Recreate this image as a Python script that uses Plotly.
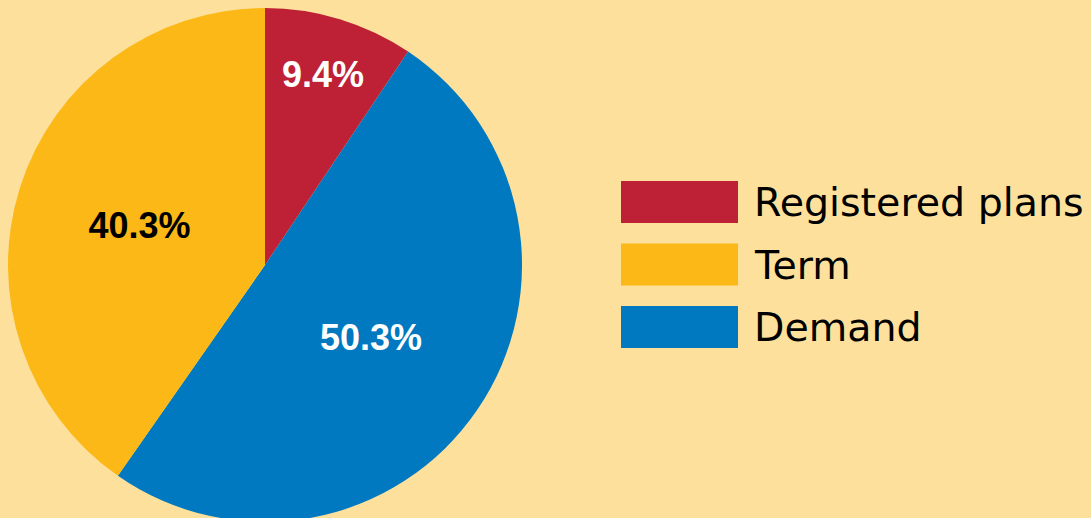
import plotly.graph_objects as go

# slice order follows the drawing (clockwise from 12 o'clock)
labels = ["Registered plans", "Demand", "Term"]
values = [9.4, 50.3, 40.3]
colors = ["#BE2036", "#0079C1", "#FBB817"]
label_colors = ["white", "white", "black"]

# legend order as shown on the right
legend_labels = ["Registered plans", "Term", "Demand"]
legend_colors = ["#BE2036", "#FBB817", "#0079C1"]

W, H = 1091, 522
bg = "#FDE09B"

fig = go.Figure(
    go.Pie(
        labels=labels,
        values=values,
        sort=False,
        direction="clockwise",
        rotation=0,
        marker=dict(colors=colors, line=dict(width=0)),
        texttemplate="%{value:.1f}%",
        textposition="inside",
        insidetextorientation="horizontal",
        textfont=dict(family="Liberation Sans", size=36, weight="bold", color=label_colors),
        domain=dict(x=[0, 530 / W], y=[0, 1]),
        showlegend=False,
        hoverinfo="label+percent",
    )
)

# hand-drawn legend with big swatches (paper coords, plot area = 8..522 px)
ph = H - 8
for i, (name, col) in enumerate(zip(legend_labels, legend_colors)):
    yc = 202 + i * 62.5 - 8
    fig.add_shape(
        type="rect",
        xref="paper", yref="paper",
        x0=621 / W, x1=738 / W,
        y0=1 - (yc - 21) / ph, y1=1 - (yc + 21) / ph,
        fillcolor=col, line=dict(width=0),
    )
    fig.add_annotation(
        text=name,
        xref="paper", yref="paper",
        x=752 / W, y=1 - yc / ph,
        xanchor="left", yanchor="middle",
        showarrow=False,
        font=dict(family="DejaVu Sans", size=39.5, color="black"),
    )

fig.update_layout(
    width=W,
    height=H,
    margin=dict(l=0, r=0, t=8, b=0),
    paper_bgcolor=bg,
    plot_bgcolor=bg,
)

fig.write_html(
    "out.html",
    config={"displayModeBar": False},
    post_script="document.body.style.margin='0';document.body.style.overflow='hidden';",
)
